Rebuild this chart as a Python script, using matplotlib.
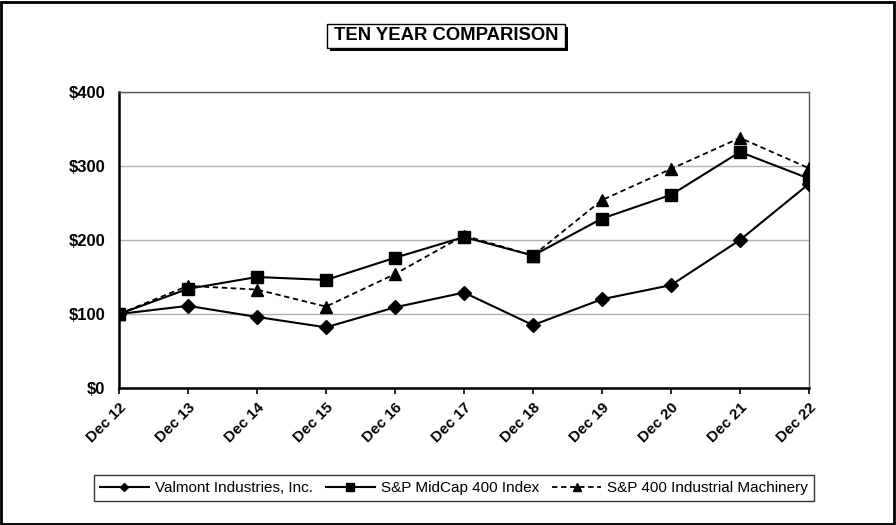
import matplotlib.pyplot as plt
from matplotlib import font_manager as fm
from matplotlib.patches import Rectangle

# data
years = ["Dec 12", "Dec 13", "Dec 14", "Dec 15", "Dec 16", "Dec 17",
         "Dec 18", "Dec 19", "Dec 20", "Dec 21", "Dec 22"]
valmont = [100, 111, 96, 82, 109, 129, 85, 120, 139, 200, 276]
midcap = [100, 134, 150, 146, 176, 204, 179, 229, 261, 319, 283]
machinery = [100, 138, 133, 110, 154, 206, 179, 254, 296, 338, 297]
yticks = [0, 100, 200, 300, 400]


def font_file(name):
    for f in fm.findSystemFonts():
        if f.endswith(name):
            return f
    return None


bold_f = font_file("LiberationSans-Bold.ttf")
bold = fm.FontProperties(fname=bold_f) if bold_f else fm.FontProperties(weight='bold')
regular = fm.FontProperties(family=['Liberation Sans', 'DejaVu Sans'], size=11)

W, H = 896, 525
fig = plt.figure(figsize=(W / 100, H / 100), dpi=100)
ax = fig.add_axes([119 / W, 1 - 388 / H, 690 / W, 296 / H])

x = range(len(years))
ax.plot(x, valmont, color='black', lw=1.5, marker='D', ms=6.8,
        label="Valmont Industries, Inc.", zorder=3)
ax.plot(x, machinery, color='black', lw=1.3, ls=(0, (3, 2)), marker='^', ms=8.5,
        label="S&P 400 Industrial Machinery", zorder=4)
ax.plot(x, midcap, color='black', lw=1.5, marker='s', ms=8.5,
        label="S&P MidCap 400 Index", zorder=5)

ax.set_xlim(0, len(years) - 1)
ax.set_ylim(0, 400)
ax.set_yticks(yticks)
ax.set_yticklabels(["$%d" % v for v in yticks], fontproperties=bold, fontsize=12)
ax.set_xticks(list(x))
ax.set_xticklabels(years, rotation=45, ha='right', rotation_mode='anchor',
                   fontproperties=bold, fontsize=11)
ax.tick_params(axis='y', length=0, pad=10)
ax.tick_params(axis='x', length=4, width=1.2, direction='out', pad=5)
ax.grid(axis='y', color='#b0b0b0', lw=1)
ax.set_axisbelow(True)
for s in ['top', 'right']:
    ax.spines[s].set_color('#555555')
    ax.spines[s].set_linewidth(1)
for s in ['left', 'bottom']:
    ax.spines[s].set_color('black')
    ax.spines[s].set_linewidth(1.8)
ax.spines['bottom'].set_zorder(6)

# legend in the order of the original
h, l = ax.get_legend_handles_labels()
order = [0, 2, 1]
leg = fig.legend([h[i] for i in order], [l[i] for i in order], ncol=3,
                 loc='center', bbox_to_anchor=(454 / W, 1 - 488 / H),
                 frameon=True, fancybox=False, edgecolor='black',
                 handlelength=3.2, columnspacing=0.85, handletextpad=0.4,
                 borderpad=0.4, markerscale=0.6, prop=regular)
leg.get_frame().set_linewidth(1)

# title box with shadow
fig.add_artist(Rectangle((330 / W, 1 - 51 / H), 238 / W, 24 / H,
                         transform=fig.transFigure, color='black', lw=0))
fig.add_artist(Rectangle((327 / W, 1 - 48 / H), 238 / W, 24 / H,
                         transform=fig.transFigure, facecolor='white',
                         edgecolor='black', lw=1))
fig.text(446 / W, 1 - 36 / H, "TEN YEAR COMPARISON", ha='center', va='center',
         fontproperties=bold, fontsize=13.3)

# outer border
fig.add_artist(Rectangle((0.001, 0.002), 0.997, 0.995, transform=fig.transFigure,
                         fill=False, edgecolor='black', lw=2))

fig.savefig("out.png", dpi=100)
